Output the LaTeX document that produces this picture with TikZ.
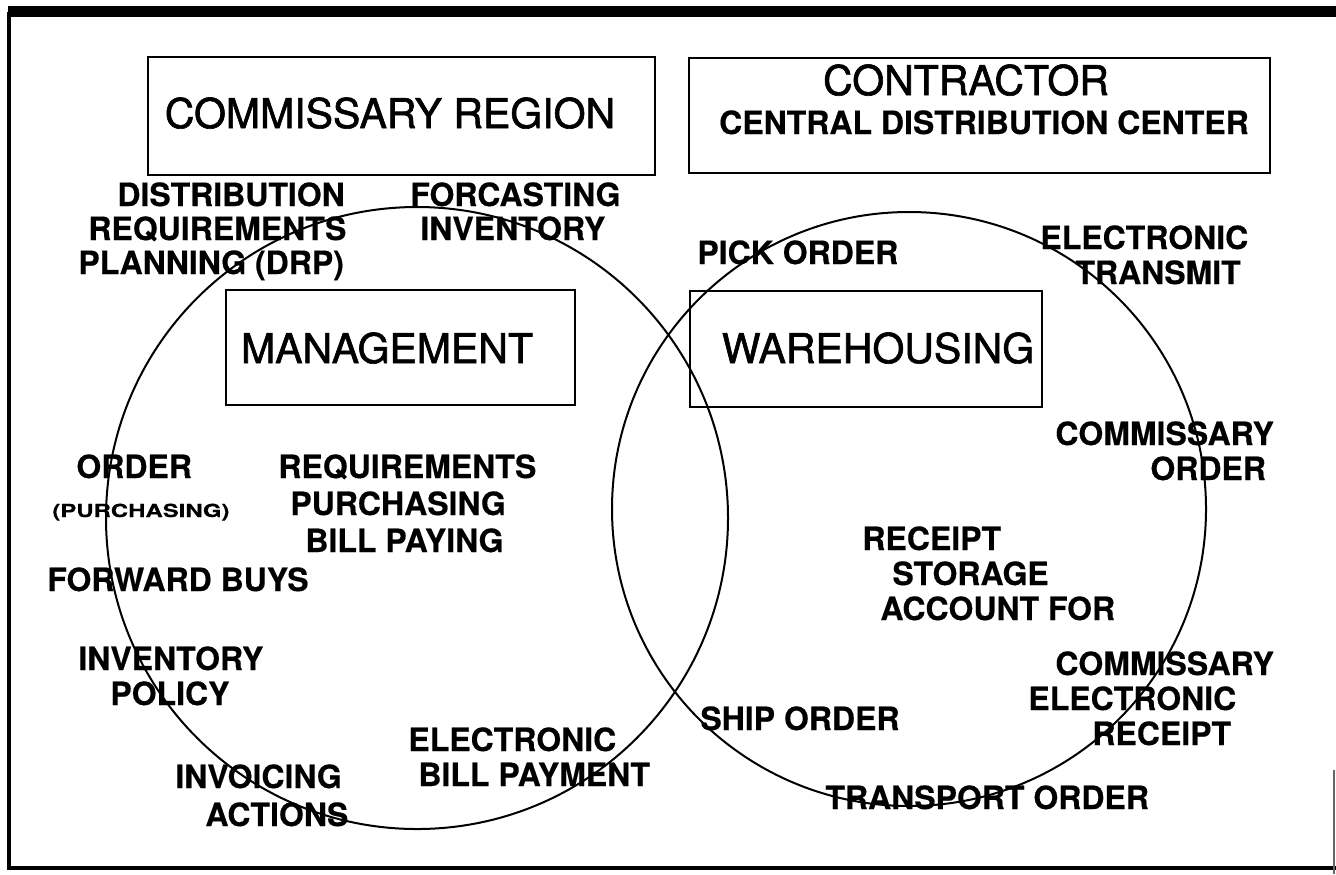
\documentclass[tikz,border=0pt]{standalone}
\usepackage{fontspec}
\usepackage{graphicx}
\setmainfont{TeX Gyre Heros}
\newfontfamily\medfont[FakeBold=1.5]{TeX Gyre Heros}
\newfontfamily\lblfont[BoldFeatures={FakeBold=0.4}]{TeX Gyre Heros}
\begin{document}
\begin{tikzpicture}[x=0.5pt,y=-0.5pt,
  lbl/.style={font=\fontsize{16}{16}\lblfont\bfseries, inner sep=0pt, anchor=base west},
  ttl/.style={font=\fontsize{20.5}{20.5}\medfont, inner sep=0pt, anchor=base},
  box/.style={draw, line width=1pt, rectangle, inner sep=0pt},
  ring/.style={draw, line width=1pt, circle, inner sep=0pt}]
\useasboundingbox (0,0) rectangle (1336,874);
% frame
\fill (8,6) rectangle (1336,17);
\draw[line width=1.6pt] (9,12) -- (9,868) -- (1336,868);
\draw[line width=1pt, black!60] (1334,770) -- (1334,874);
% boxes
\node[box, minimum width=253.5pt, minimum height=59pt] (creg) at (401.5,116) {};
\node[ttl] (cregt) at (390,128) {COMMISSARY REGION};
\node[box, minimum width=290.5pt, minimum height=57.5pt] (cbox) at (979.5,115.5) {};
\node[ttl] (cont) at (966,95) {CONTRACTOR};
\node[lbl, anchor=base] (cdc) at (984,134) {CENTRAL DISTRIBUTION CENTER};
\node[box, minimum width=174.5pt, minimum height=57.5pt] (mbox) at (400.5,347.5) {};
\node[ttl] (mgt) at (387,363) {MANAGEMENT};
\node[box, minimum width=176pt, minimum height=58pt] (wbox) at (866,349) {};
\node[ttl] (wh) at (878,363) {WAREHOUSING};
% circles
\node[ring, minimum size=311pt] (lc) at (417,518) {};
\node[ring, minimum size=297pt] (rc) at (909,509) {};
% labels
\node[lbl] (d1) at (117,206) {DISTRIBUTION};
\node[lbl] (d2) at (88,240) {REQUIREMENTS};
\node[lbl] (d3) at (78,274) {PLANNING (DRP)};
\node[lbl] (f1) at (410,206) {FORCASTING};
\node[lbl] (f2) at (420,240) {INVENTORY};
\node[lbl] (pk) at (697,264) {PICK ORDER};
\node[lbl] (e1) at (1040,249) {ELECTRONIC};
\node[lbl] (e2) at (1075,284) {TRANSMIT};
\node[lbl] (o1) at (76,478) {ORDER};
\node[lbl, font=\fontsize{9}{9}\lblfont\bfseries] (o2) at (52,517) {\scalebox{1.33}[1]{(PURCHASING)}};
\node[lbl] (r1) at (278,478) {REQUIREMENTS};
\node[lbl] (r2) at (290,515) {PURCHASING};
\node[lbl] (r3) at (305,552) {BILL PAYING};
\node[lbl] (fb) at (47,591) {FORWARD BUYS};
\node[lbl] (i1) at (78,670) {INVENTORY};
\node[lbl] (i2) at (110,705) {POLICY};
\node[lbl] (eb1) at (408,751) {ELECTRONIC};
\node[lbl] (eb2) at (418,786) {BILL PAYMENT};
\node[lbl] (iv1) at (175,788) {INVOICING};
\node[lbl] (iv2) at (205,826) {ACTIONS};
\node[lbl] (c1) at (1055,445) {COMMISSARY};
\node[lbl] (c2) at (1150,480) {ORDER};
\node[lbl] (rs1) at (862,550) {RECEIPT};
\node[lbl] (rs2) at (892,585) {STORAGE};
\node[lbl] (rs3) at (880,620) {ACCOUNT FOR};
\node[lbl] (ce1) at (1055,675) {COMMISSARY};
\node[lbl] (ce2) at (1028,710) {ELECTRONIC};
\node[lbl] (ce3) at (1092,745) {RECEIPT};
\node[lbl] (so) at (700,730) {SHIP ORDER};
\node[lbl] (tr) at (825,809) {TRANSPORT ORDER};
\end{tikzpicture}
\end{document}
